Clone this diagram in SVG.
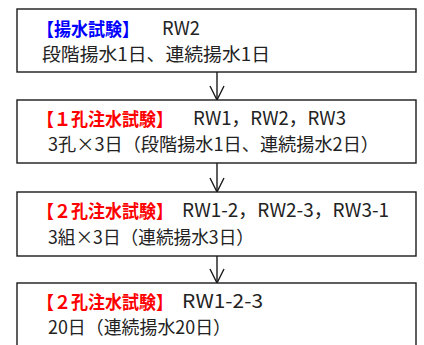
<svg xmlns="http://www.w3.org/2000/svg" width="424" height="345" viewBox="0 0 424 345">
<style>
.box{fill:#ffffff;stroke:#1a1a1a;stroke-width:1.4}
.t{font-family:"Noto Sans CJK JP","Noto Sans CJK SC",sans-serif;font-size:18px}
.lat{font-size:19px}
.red{fill:#ff0000;font-weight:bold}
.blue{fill:#0000ff;font-weight:bold}
.k{fill:#222222}
.ln{stroke:#1a1a1a;stroke-width:1.4;fill:none}
</style>
<rect width="424" height="345" fill="#ffffff"/>
<g id="connectors">
<line class="ln" x1="217" y1="72" x2="217" y2="100"/>
<polyline class="ln" points="210,86 217,100 224,86"/>
<line class="ln" x1="217" y1="163" x2="217" y2="192"/>
<polyline class="ln" points="210,178 217,192 224,178"/>
<line class="ln" x1="217" y1="256" x2="217" y2="283"/>
<polyline class="ln" points="210,269 217,283 224,269"/>
</g>
<g id="node1">
<rect class="box" x="17" y="9" width="399" height="63"/>
<text class="t blue" x="37" y="35.5" textLength="102" lengthAdjust="spacingAndGlyphs">【揚水試験】</text>
<text class="t lat k" x="162" y="35" textLength="38" lengthAdjust="spacingAndGlyphs">RW2</text>
<text class="t k" x="42" y="60.5" textLength="228" lengthAdjust="spacingAndGlyphs">段階揚水1日、連続揚水1日</text>
</g>
<g id="node2">
<rect class="box" x="17" y="100" width="399" height="63"/>
<text class="t red" x="37" y="126" textLength="136" lengthAdjust="spacingAndGlyphs">【１孔注水試験】</text>
<text class="t lat k" x="193" y="125" textLength="153" lengthAdjust="spacingAndGlyphs">RW1，RW2，RW3</text>
<text class="t k" x="48" y="150.5" textLength="331" lengthAdjust="spacingAndGlyphs">3孔×3日（段階揚水1日、連続揚水2日）</text>
</g>
<g id="node3">
<rect class="box" x="17" y="192" width="399" height="64"/>
<text class="t red" x="37" y="217.5" textLength="136" lengthAdjust="spacingAndGlyphs">【２孔注水試験】</text>
<text class="t lat k" x="182" y="217" textLength="207" lengthAdjust="spacingAndGlyphs">RW1-2，RW2-3，RW3-1</text>
<text class="t k" x="48" y="244" textLength="206" lengthAdjust="spacingAndGlyphs">3組×3日（連続揚水3日）</text>
</g>
<g id="node4">
<rect class="box" x="17" y="283" width="399" height="80"/>
<text class="t red" x="37" y="308.5" textLength="136" lengthAdjust="spacingAndGlyphs">【２孔注水試験】</text>
<text class="t lat k" x="182" y="308" textLength="81" lengthAdjust="spacingAndGlyphs">RW1-2-3</text>
<text class="t k" x="48" y="334" textLength="183" lengthAdjust="spacingAndGlyphs">20日（連続揚水20日）</text>
</g>
</svg>
